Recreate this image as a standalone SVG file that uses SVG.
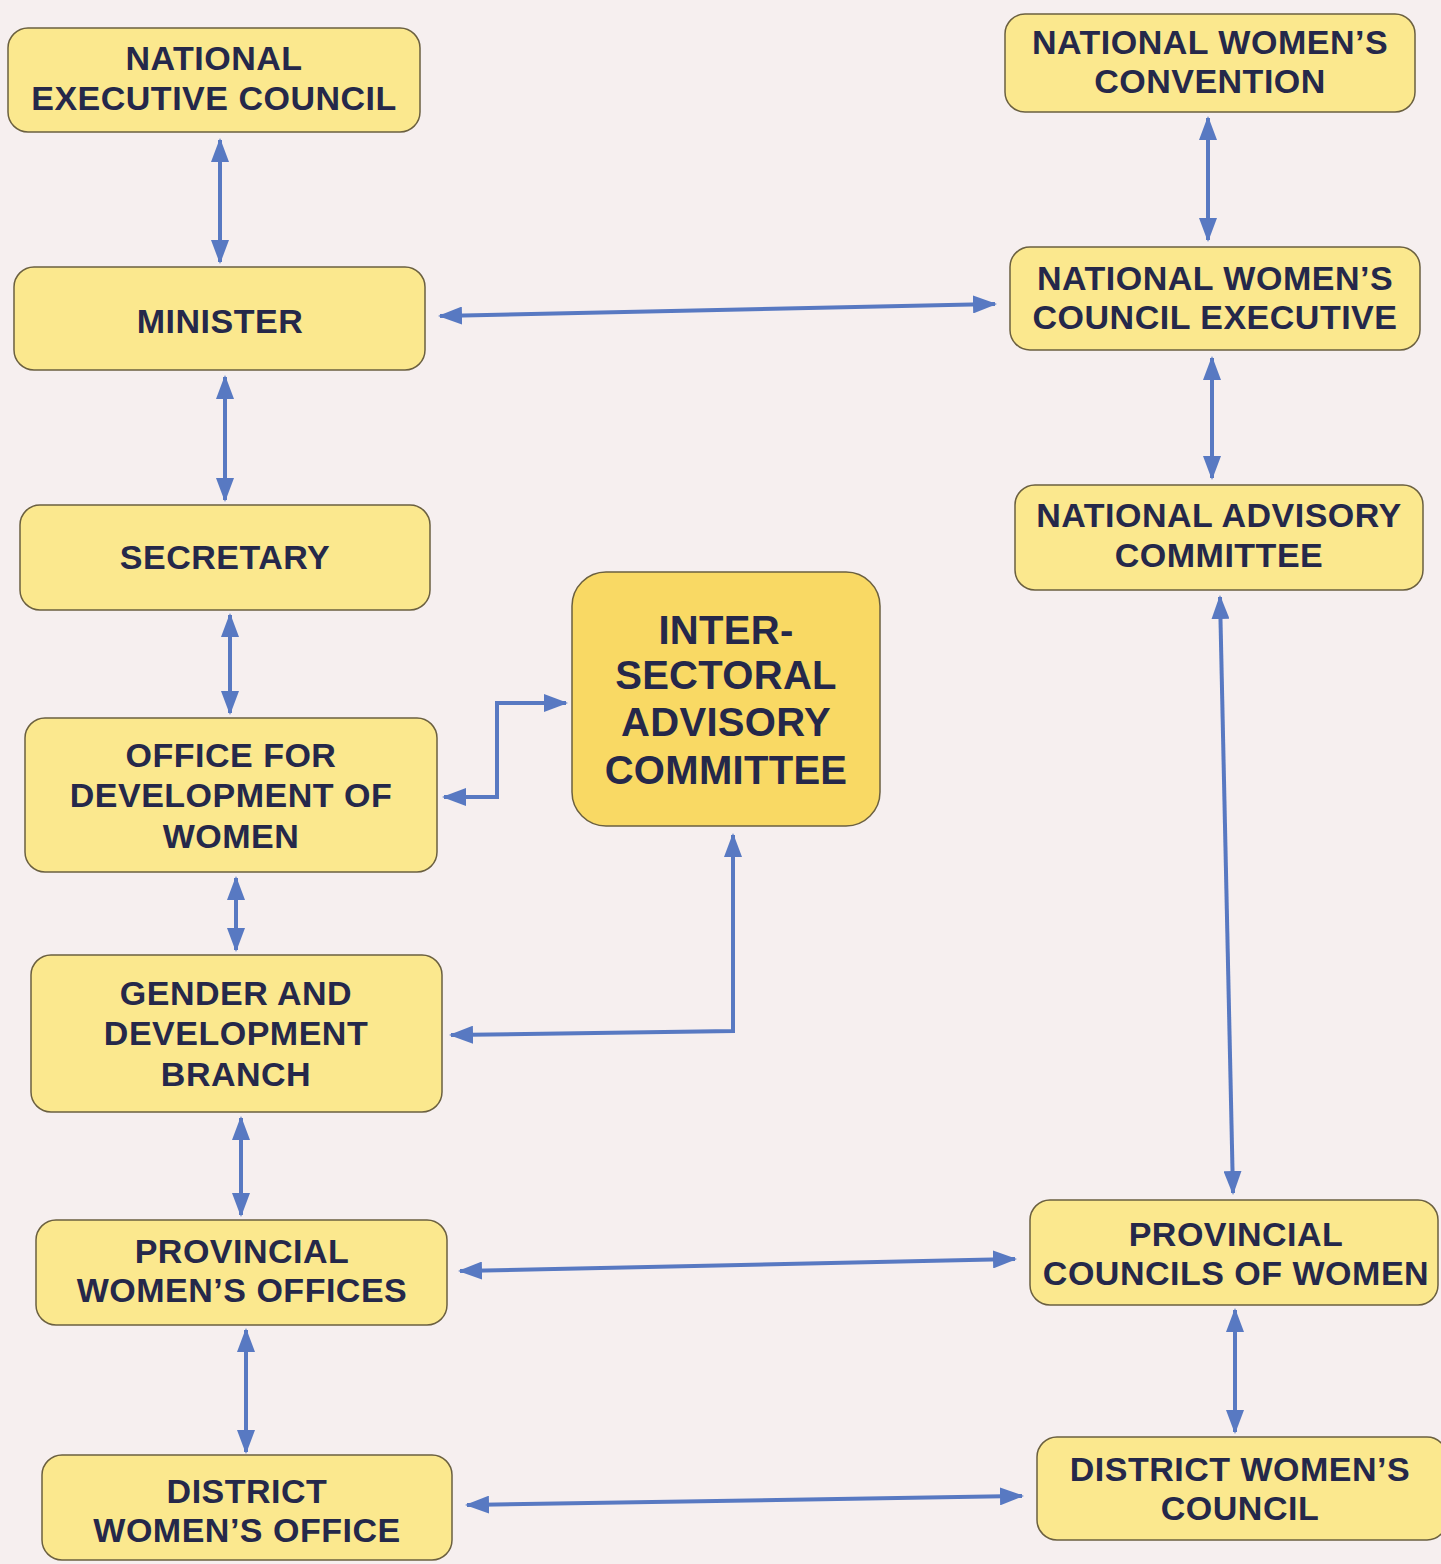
<svg xmlns="http://www.w3.org/2000/svg" width="1441" height="1564" viewBox="0 0 1441 1564">
<style>
.bg{fill:#f6efef}
.box{fill:#fbe88e;stroke:#6b6040;stroke-width:1.5}
.big{fill:#f9d964;stroke:#6b6040;stroke-width:1.5}
text{font-family:"Liberation Sans",Arial,sans-serif;font-weight:bold;font-size:34px;letter-spacing:0.5px;fill:#25284a;text-anchor:middle}
.lg{font-size:40px;letter-spacing:0.3px}
.c{fill:none;stroke:#5879c2;stroke-width:4}
</style>
<defs>
<marker id="ah" viewBox="0 0 24 18" refX="22" refY="9" markerWidth="24" markerHeight="18" markerUnits="userSpaceOnUse" orient="auto-start-reverse">
<path d="M0,0 L24,9 L0,18 Z" fill="#5879c2"/>
</marker>
</defs>
<rect class="bg" width="1441" height="1564"/>
<g id="connectors">
<line class="c" x1="220" y1="140" x2="220" y2="262" marker-start="url(#ah)" marker-end="url(#ah)"/>
<line class="c" x1="225" y1="377" x2="225" y2="500" marker-start="url(#ah)" marker-end="url(#ah)"/>
<line class="c" x1="230" y1="615" x2="230" y2="713" marker-start="url(#ah)" marker-end="url(#ah)"/>
<line class="c" x1="236" y1="878" x2="236" y2="950" marker-start="url(#ah)" marker-end="url(#ah)"/>
<line class="c" x1="241" y1="1118" x2="241" y2="1215" marker-start="url(#ah)" marker-end="url(#ah)"/>
<line class="c" x1="246" y1="1330" x2="246" y2="1452" marker-start="url(#ah)" marker-end="url(#ah)"/>
<line class="c" x1="440" y1="316" x2="995" y2="304" marker-start="url(#ah)" marker-end="url(#ah)"/>
<line class="c" x1="1208" y1="118" x2="1208" y2="240" marker-start="url(#ah)" marker-end="url(#ah)"/>
<line class="c" x1="1212" y1="358" x2="1212" y2="478" marker-start="url(#ah)" marker-end="url(#ah)"/>
<line class="c" x1="1220" y1="597" x2="1233" y2="1193" marker-start="url(#ah)" marker-end="url(#ah)"/>
<line class="c" x1="1235" y1="1310" x2="1235" y2="1432" marker-start="url(#ah)" marker-end="url(#ah)"/>
<line class="c" x1="460" y1="1271" x2="1015" y2="1259" marker-start="url(#ah)" marker-end="url(#ah)"/>
<line class="c" x1="467" y1="1505" x2="1022" y2="1496" marker-start="url(#ah)" marker-end="url(#ah)"/>
<polyline class="c" points="444,797 497,797 497,703 566,703" marker-start="url(#ah)" marker-end="url(#ah)"/>
<polyline class="c" points="451,1035 733,1031 733,835" marker-start="url(#ah)" marker-end="url(#ah)"/>
</g>
<g id="nec"><rect class="box" x="8" y="28" width="412" height="104" rx="20"/><text x="214" y="70">NATIONAL</text><text x="214" y="110">EXECUTIVE COUNCIL</text></g>
<g id="minister"><rect class="box" x="14" y="267" width="411" height="103" rx="20"/><text x="220" y="333">MINISTER</text></g>
<g id="secretary"><rect class="box" x="20" y="505" width="410" height="105" rx="20"/><text x="225" y="569">SECRETARY</text></g>
<g id="ofdw"><rect class="box" x="25" y="718" width="412" height="154" rx="20"/><text x="231" y="767">OFFICE FOR</text><text x="231" y="807">DEVELOPMENT OF</text><text x="231" y="848">WOMEN</text></g>
<g id="gdb"><rect class="box" x="31" y="955" width="411" height="157" rx="20"/><text x="236" y="1005">GENDER AND</text><text x="236" y="1045">DEVELOPMENT</text><text x="236" y="1086">BRANCH</text></g>
<g id="pwo"><rect class="box" x="36" y="1220" width="411" height="105" rx="20"/><text x="242" y="1263">PROVINCIAL</text><text x="242" y="1302">WOMEN’S OFFICES</text></g>
<g id="dwo"><rect class="box" x="42" y="1455" width="410" height="105" rx="20"/><text x="247" y="1503">DISTRICT</text><text x="247" y="1542">WOMEN’S OFFICE</text></g>
<g id="isac"><rect class="big" x="572" y="572" width="308" height="254" rx="34"/><text class="lg" x="726" y="644">INTER-</text><text class="lg" x="726" y="689">SECTORAL</text><text class="lg" x="726" y="736">ADVISORY</text><text class="lg" x="726" y="784">COMMITTEE</text></g>
<g id="nwc"><rect class="box" x="1005" y="14" width="410" height="98" rx="20"/><text x="1210" y="54">NATIONAL WOMEN’S</text><text x="1210" y="93">CONVENTION</text></g>
<g id="nwce"><rect class="box" x="1010" y="247" width="410" height="103" rx="20"/><text x="1215" y="290">NATIONAL WOMEN’S</text><text x="1215" y="329">COUNCIL EXECUTIVE</text></g>
<g id="nac"><rect class="box" x="1015" y="485" width="408" height="105" rx="20"/><text x="1219" y="527">NATIONAL ADVISORY</text><text x="1219" y="567">COMMITTEE</text></g>
<g id="pcw"><rect class="box" x="1030" y="1200" width="408" height="105" rx="20"/><text x="1236" y="1246">PROVINCIAL</text><text x="1236" y="1285">COUNCILS OF WOMEN</text></g>
<g id="dwc"><rect class="box" x="1037" y="1437" width="410" height="103" rx="20"/><text x="1240" y="1481">DISTRICT WOMEN’S</text><text x="1240" y="1520">COUNCIL</text></g>
</svg>
